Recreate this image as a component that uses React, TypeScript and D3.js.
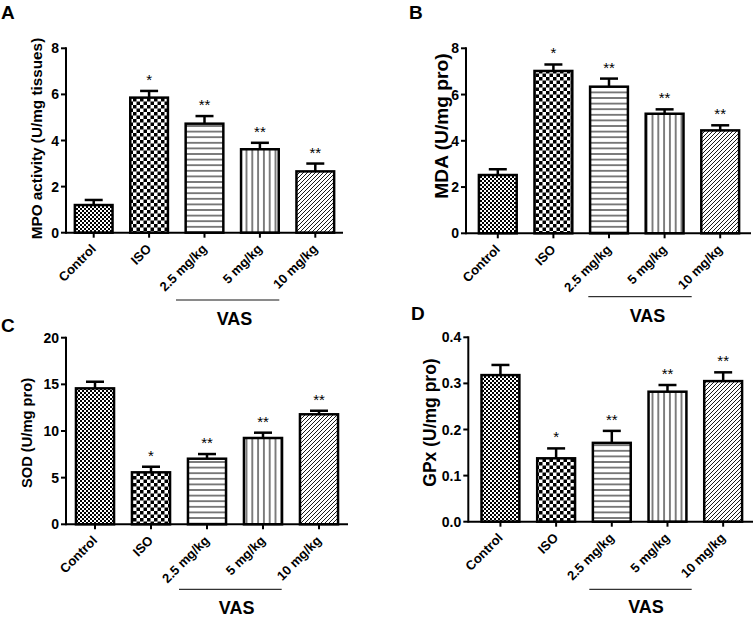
import React from "react";
import * as d3 from "d3";

const categories = ["Control", "ISO", "2.5 mg/kg", "5 mg/kg", "10 mg/kg"];
const significance = ["", "*", "**", "**", "**"];

const mpoMean = [1.2, 5.86, 4.73, 3.62, 2.66];
const mpoSem = [0.22, 0.29, 0.33, 0.28, 0.34];
const mpoTicks = [0, 2, 4, 6, 8];

const mdaMean = [2.52, 7.02, 6.34, 5.17, 4.45];
const mdaSem = [0.25, 0.28, 0.35, 0.19, 0.22];
const mdaTicks = [0, 2, 4, 6, 8];

const sodMean = [14.57, 5.57, 7.03, 9.25, 11.79];
const sodSem = [0.71, 0.6, 0.5, 0.57, 0.38];
const sodTicks = [0, 5, 10, 15, 20];

const gpxMean = [0.318, 0.1375, 0.171, 0.282, 0.305];
const gpxSem = [0.022, 0.0215, 0.026, 0.0145, 0.019];
const gpxTicks = [0, 0.1, 0.2, 0.3, 0.4];

const patterns = ["pFineCheck", "pCoarseCheck", "pHLines", "pVLines", "pDiag"];
const FONT = "Arial, 'Liberation Sans', Helvetica, sans-serif";

type PanelProps = {
  letter: string;
  letterPos: [number, number];
  title: string;
  titlePos: [number, number];
  titleSize: number;
  means: number[];
  sems: number[];
  ticks: number[];
  fmt: (v: number) => string;
  axisX: number;
  band: [number, number];
  axisEnd: number;
  y0: number;
  yTop: number;
  vasLine: [number, number, number];
  vasLineStyle: { stroke: string; width: number };
  vasText: [number, number];
};

function Panel(p: PanelProps) {
  const max = p.ticks[p.ticks.length - 1];
  const y = d3.scaleLinear().domain([0, max]).range([p.y0, p.yTop]);
  const x = d3
    .scaleBand<string>()
    .domain(categories)
    .range(p.band)
    .paddingInner(0.32)
    .paddingOuter(0.16);
  const bw = x.bandwidth();
  const cap = 18;
  return (
    <g fontFamily={FONT}>
      <text x={p.letterPos[0]} y={p.letterPos[1]} fontSize={19} fontWeight="bold">
        {p.letter}
      </text>
      <text
        transform={`translate(${p.titlePos[0]},${p.titlePos[1]}) rotate(-90)`}
        textAnchor="middle"
        fontSize={p.titleSize}
        fontWeight="bold"
      >
        {p.title}
      </text>
      {categories.map((c, i) => {
        const x0 = x(c)!;
        const cx = x0 + bw / 2;
        const top = y(p.means[i]);
        const errTop = y(p.means[i] + p.sems[i]);
        return (
          <g key={c}>
            <line x1={cx} x2={cx} y1={top} y2={errTop} stroke="#000" strokeWidth={2.5} />
            <line x1={cx - cap / 2} x2={cx + cap / 2} y1={errTop} y2={errTop} stroke="#000" strokeWidth={2.5} />
            <rect
              x={x0}
              y={top}
              width={bw}
              height={p.y0 - top}
              fill={`url(#${patterns[i]})`}
              stroke="#000"
              strokeWidth={2.5}
            />
            {significance[i] && (
              <text x={cx} y={errTop - 6} textAnchor="middle" fontSize={15} fill="#000">
                {significance[i]}
              </text>
            )}
          </g>
        );
      })}
      <line x1={p.axisX} x2={p.axisX} y1={y(max) - 1} y2={p.y0 + 1} stroke="#000" strokeWidth={2} />
      {p.ticks.map((t) => (
        <g key={t}>
          <line x1={p.axisX - 5} x2={p.axisX} y1={y(t)} y2={y(t)} stroke="#000" strokeWidth={2} />
          <text
            x={p.axisX - 7}
            y={y(t)}
            dy="0.36em"
            textAnchor="end"
            fontSize={14}
            fontWeight="bold"
          >
            {p.fmt(t)}
          </text>
        </g>
      ))}
      <line x1={p.axisX} x2={p.axisEnd} y1={p.y0} y2={p.y0} stroke="#000" strokeWidth={2} />
      {categories.map((c) => {
        const cx = x(c)! + bw / 2;
        return (
          <g key={c}>
            <line x1={cx} x2={cx} y1={p.y0} y2={p.y0 + 5} stroke="#000" strokeWidth={2} />
            <text
              transform={`translate(${cx + 3},${p.y0 + 17}) rotate(-45)`}
              textAnchor="end"
              fontSize={13}
              fontWeight="bold"
            >
              {c}
            </text>
          </g>
        );
      })}
      <line
        x1={p.vasLine[0]}
        x2={p.vasLine[1]}
        y1={p.vasLine[2]}
        y2={p.vasLine[2]}
        stroke={p.vasLineStyle.stroke}
        strokeWidth={p.vasLineStyle.width}
      />
      <text x={p.vasText[0]} y={p.vasText[1]} textAnchor="middle" fontSize={18} fontWeight="bold">
        VAS
      </text>
    </g>
  );
}

export default function App() {
  const f0 = (v: number) => d3.format("d")(v);
  const f1 = (v: number) => d3.format(".1f")(v);
  return (
    <svg
      width={753}
      height={617}
      style={{ position: "absolute", left: 0, top: 0, background: "#fff" }}
    >
      <defs>
        <pattern id="pFineCheck" patternUnits="userSpaceOnUse" width={4} height={4}>
          <rect width={4} height={4} fill="#fff" />
          <rect width={2} height={2} fill="#000" />
          <rect x={2} y={2} width={2} height={2} fill="#000" />
        </pattern>
        <pattern id="pCoarseCheck" patternUnits="userSpaceOnUse" width={7} height={7}>
          <rect width={7} height={7} fill="#fff" />
          <rect width={3.5} height={3.5} fill="#000" />
          <rect x={3.5} y={3.5} width={3.5} height={3.5} fill="#000" />
        </pattern>
        <pattern id="pHLines" patternUnits="userSpaceOnUse" width={6} height={5.6}>
          <rect width={6} height={5.6} fill="#fff" />
          <line x1={0} x2={6} y1={2.8} y2={2.8} stroke="#000" strokeWidth={1} />
        </pattern>
        <pattern id="pVLines" patternUnits="userSpaceOnUse" width={5.8} height={6}>
          <rect width={5.8} height={6} fill="#fff" />
          <line x1={2.9} x2={2.9} y1={0} y2={6} stroke="#000" strokeWidth={1} />
        </pattern>
        <pattern id="pDiag" patternUnits="userSpaceOnUse" width={4} height={4}>
          <rect width={4} height={4} fill="#fff" />
          <path d="M-1,1 l2,-2 M0,4 l4,-4 M3,5 l2,-2" stroke="#000" strokeWidth={0.9} />
        </pattern>
      </defs>
      <Panel
        letter="A"
        letterPos={[1, 19]}
        title="MPO activity (U/mg tissues)"
        titlePos={[41.8, 138.5]}
        titleSize={15.3}
        means={mpoMean}
        sems={mpoSem}
        ticks={mpoTicks}
        fmt={f0}
        axisX={66}
        band={[66, 343]}
        axisEnd={343}
        y0={232.7}
        yTop={48.3}
        vasLine={[176, 279.3, 300]}
        vasLineStyle={{ stroke: "#8a8a8a", width: 2 }}
        vasText={[234.5, 325]}
      />
      <Panel
        letter="B"
        letterPos={[409, 19]}
        title="MDA (U/mg pro)"
        titlePos={[447.7, 126]}
        titleSize={19.2}
        means={mdaMean}
        sems={mdaSem}
        ticks={mdaTicks}
        fmt={f0}
        axisX={466}
        band={[470, 748]}
        axisEnd={751}
        y0={233.3}
        yTop={48.3}
        vasLine={[588.3, 691.7, 296.7]}
        vasLineStyle={{ stroke: "#000", width: 1 }}
        vasText={[647.5, 321.5]}
      />
      <Panel
        letter="C"
        letterPos={[1, 332]}
        title="SOD (U/mg pro)"
        titlePos={[31.9, 433]}
        titleSize={14.7}
        means={sodMean}
        sems={sodSem}
        ticks={sodTicks}
        fmt={f0}
        axisX={66}
        band={[67, 347]}
        axisEnd={348}
        y0={524.3}
        yTop={337.7}
        vasLine={[179, 281.7, 589.3]}
        vasLineStyle={{ stroke: "#000", width: 1 }}
        vasText={[236.7, 614]}
      />
      <Panel
        letter="D"
        letterPos={[411, 320]}
        title="GPx (U/mg pro)"
        titlePos={[436.3, 422.5]}
        titleSize={17.5}
        means={gpxMean}
        sems={gpxSem}
        ticks={gpxTicks}
        fmt={f1}
        axisX={468.3}
        band={[472.6, 751]}
        axisEnd={753}
        y0={521.7}
        yTop={337.3}
        vasLine={[589.3, 691.7, 589.3]}
        vasLineStyle={{ stroke: "#000", width: 1 }}
        vasText={[646, 613]}
      />
    </svg>
  );
}
